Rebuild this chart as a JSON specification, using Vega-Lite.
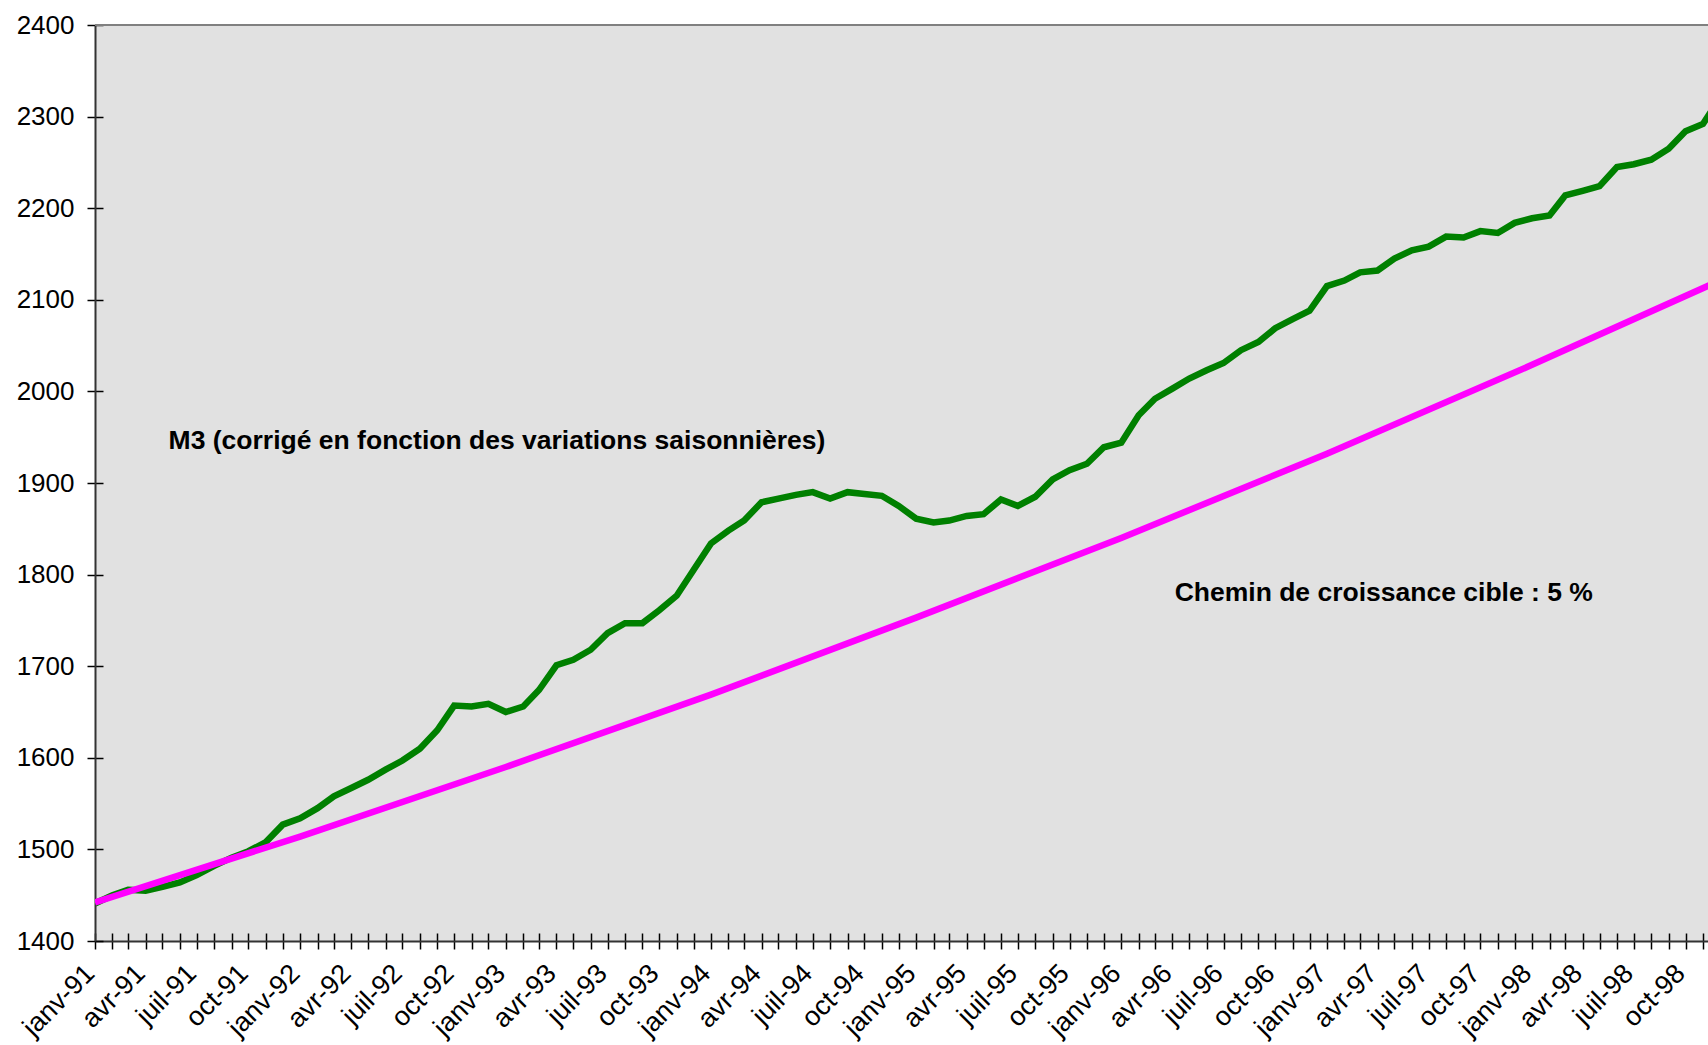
{
  "$schema": "https://vega.github.io/schema/vega-lite/v6.json",
  "width": 1613,
  "height": 916,
  "autosize": {"type": "none"},
  "padding": {"left": 95, "top": 25, "right": 0, "bottom": 104},
  "background": "white",
  "config": {
    "view": {"fill": "#E1E1E1", "stroke": null},
    "font": "Liberation Sans",
    "axis": {"grid": false, "title": null, "zindex": 1}
  },
  "datasets": {
    "m3": [
      {"date": "1991-01-01", "value": 1441}, {"date": "1991-02-01", "value": 1450}, {"date": "1991-03-01", "value": 1456}, {"date": "1991-04-01", "value": 1455},
      {"date": "1991-05-01", "value": 1459}, {"date": "1991-06-01", "value": 1464}, {"date": "1991-07-01", "value": 1472}, {"date": "1991-08-01", "value": 1482},
      {"date": "1991-09-01", "value": 1491}, {"date": "1991-10-01", "value": 1498}, {"date": "1991-11-01", "value": 1508}, {"date": "1991-12-01", "value": 1527},
      {"date": "1992-01-01", "value": 1534}, {"date": "1992-02-01", "value": 1545}, {"date": "1992-03-01", "value": 1558}, {"date": "1992-04-01", "value": 1567},
      {"date": "1992-05-01", "value": 1576}, {"date": "1992-06-01", "value": 1587}, {"date": "1992-07-01", "value": 1597}, {"date": "1992-08-01", "value": 1610},
      {"date": "1992-09-01", "value": 1630}, {"date": "1992-10-01", "value": 1657}, {"date": "1992-11-01", "value": 1656}, {"date": "1992-12-01", "value": 1659},
      {"date": "1993-01-01", "value": 1650}, {"date": "1993-02-01", "value": 1656}, {"date": "1993-03-01", "value": 1674}, {"date": "1993-04-01", "value": 1701},
      {"date": "1993-05-01", "value": 1707}, {"date": "1993-06-01", "value": 1718}, {"date": "1993-07-01", "value": 1736}, {"date": "1993-08-01", "value": 1747},
      {"date": "1993-09-01", "value": 1747}, {"date": "1993-10-01", "value": 1761}, {"date": "1993-11-01", "value": 1777}, {"date": "1993-12-01", "value": 1805},
      {"date": "1994-01-01", "value": 1834}, {"date": "1994-02-01", "value": 1848}, {"date": "1994-03-01", "value": 1859}, {"date": "1994-04-01", "value": 1879},
      {"date": "1994-05-01", "value": 1883}, {"date": "1994-06-01", "value": 1887}, {"date": "1994-07-01", "value": 1890}, {"date": "1994-08-01", "value": 1883},
      {"date": "1994-09-01", "value": 1890}, {"date": "1994-10-01", "value": 1888}, {"date": "1994-11-01", "value": 1886}, {"date": "1994-12-01", "value": 1875},
      {"date": "1995-01-01", "value": 1861}, {"date": "1995-02-01", "value": 1857}, {"date": "1995-03-01", "value": 1859}, {"date": "1995-04-01", "value": 1864},
      {"date": "1995-05-01", "value": 1866}, {"date": "1995-06-01", "value": 1882}, {"date": "1995-07-01", "value": 1875}, {"date": "1995-08-01", "value": 1885},
      {"date": "1995-09-01", "value": 1904}, {"date": "1995-10-01", "value": 1914}, {"date": "1995-11-01", "value": 1921}, {"date": "1995-12-01", "value": 1939},
      {"date": "1996-01-01", "value": 1944}, {"date": "1996-02-01", "value": 1974}, {"date": "1996-03-01", "value": 1992}, {"date": "1996-04-01", "value": 2003},
      {"date": "1996-05-01", "value": 2014}, {"date": "1996-06-01", "value": 2023}, {"date": "1996-07-01", "value": 2031}, {"date": "1996-08-01", "value": 2045},
      {"date": "1996-09-01", "value": 2054}, {"date": "1996-10-01", "value": 2069}, {"date": "1996-11-01", "value": 2079}, {"date": "1996-12-01", "value": 2088},
      {"date": "1997-01-01", "value": 2115}, {"date": "1997-02-01", "value": 2121}, {"date": "1997-03-01", "value": 2130}, {"date": "1997-04-01", "value": 2132},
      {"date": "1997-05-01", "value": 2145}, {"date": "1997-06-01", "value": 2154}, {"date": "1997-07-01", "value": 2158}, {"date": "1997-08-01", "value": 2169},
      {"date": "1997-09-01", "value": 2168}, {"date": "1997-10-01", "value": 2175}, {"date": "1997-11-01", "value": 2173}, {"date": "1997-12-01", "value": 2184},
      {"date": "1998-01-01", "value": 2189}, {"date": "1998-02-01", "value": 2192}, {"date": "1998-03-01", "value": 2214}, {"date": "1998-04-01", "value": 2219},
      {"date": "1998-05-01", "value": 2224}, {"date": "1998-06-01", "value": 2245}, {"date": "1998-07-01", "value": 2248}, {"date": "1998-08-01", "value": 2253},
      {"date": "1998-09-01", "value": 2265}, {"date": "1998-10-01", "value": 2284}, {"date": "1998-11-01", "value": 2292}, {"date": "1998-12-01", "value": 2320}
    ],
    "cible": [
      {"date": "1991-01-01", "value": 1442}, {"date": "1992-01-01", "value": 1514}, {"date": "1993-01-01", "value": 1590},
      {"date": "1994-01-01", "value": 1669}, {"date": "1995-01-01", "value": 1753}, {"date": "1996-01-01", "value": 1840},
      {"date": "1997-01-01", "value": 1932}, {"date": "1998-01-01", "value": 2029}, {"date": "1998-12-01", "value": 2121}
    ],
    "notes": [
      {"date": "1991-05-12", "value": 1946, "label": "M3 (corrigé en fonction des variations saisonnières)"},
      {"date": "1996-04-05", "value": 1780, "label": "Chemin de croissance cible : 5 %"}
    ]
  },
  "resolve": {"axis": {"x": "independent", "y": "independent"}},
  "layer": [
    {
      "data": {"values": [{}]},
      "mark": {"type": "rule", "color": "#808080", "strokeWidth": 2},
      "encoding": {
        "y": {"datum": 2400, "type": "quantitative", "scale": {"domain": [1400, 2400], "nice": false, "zero": false}, "axis": null}
      }
    },
    {
      "data": {"name": "m3"},
      "mark": {"type": "line", "color": "#008000", "strokeWidth": 6.5, "clip": true},
      "encoding": {
        "x": {
          "field": "date", "type": "temporal",
          "scale": {"type": "utc", "domain": [{"year": 1991, "month": 1, "date": 1, "utc": true}, {"year": 1998, "month": 11, "date": 10, "utc": true}]},
          "axis": {"orient": "bottom", "offset": -8, "tickSize": 8, "labels": false, "domain": false, "tickColor": "#000000", "tickWidth": 1.5, "tickCount": {"interval": "month", "step": 1}}
        },
        "y": {
          "field": "value", "type": "quantitative",
          "scale": {"domain": [1400, 2400], "nice": false, "zero": false},
          "axis": {"orient": "left", "offset": -8, "tickSize": 8, "labels": false, "domain": false, "tickColor": "#000000", "tickWidth": 1.5, "values": [1400, 1500, 1600, 1700, 1800, 1900, 2000, 2100, 2200, 2300, 2400]}
        }
      }
    },
    {
      "data": {"name": "cible"},
      "mark": {"type": "line", "color": "#FF00FF", "strokeWidth": 6.5, "clip": true},
      "encoding": {
        "x": {
          "field": "date", "type": "temporal",
          "scale": {"type": "utc", "domain": [{"year": 1991, "month": 1, "date": 1, "utc": true}, {"year": 1998, "month": 11, "date": 10, "utc": true}]},
          "axis": {
            "orient": "bottom", "tickSize": 8, "tickColor": "#000000", "tickWidth": 1.5,
            "domainColor": "#333333", "domainWidth": 2,
            "tickCount": {"interval": "month", "step": 1},
            "labelExpr": "utcmonth(datum.value) % 3 == 0 ? ['janv','avr','juil','oct'][utcmonth(datum.value) / 3] + '-' + utcFormat(datum.value, '%y') : ''",
            "labelAngle": -45, "labelAlign": "right", "labelBaseline": "middle",
            "labelFontSize": 27, "labelColor": "#000000", "labelPadding": 20, "labelOffset": -5,
            "labelOverlap": false, "labelBound": false, "labelFlush": false
          }
        },
        "y": {
          "field": "value", "type": "quantitative",
          "scale": {"domain": [1400, 2400], "nice": false, "zero": false},
          "axis": {
            "orient": "left", "tickSize": 8, "tickColor": "#000000", "tickWidth": 1.5,
            "domainColor": "#333333", "domainWidth": 2, "format": "d",
            "values": [1400, 1500, 1600, 1700, 1800, 1900, 2000, 2100, 2200, 2300, 2400],
            "labelFontSize": 26, "labelColor": "#000000", "labelPadding": 13,
            "labelOverlap": false, "labelBound": false, "labelFlush": false
          }
        }
      }
    },
    {
      "data": {"name": "notes"},
      "mark": {"type": "text", "fontWeight": "bold", "fontSize": 26.5, "align": "left", "baseline": "middle", "color": "#000000"},
      "encoding": {
        "x": {"field": "date", "type": "temporal", "scale": {"type": "utc", "domain": [{"year": 1991, "month": 1, "date": 1, "utc": true}, {"year": 1998, "month": 11, "date": 10, "utc": true}]}, "axis": null},
        "y": {"field": "value", "type": "quantitative", "scale": {"domain": [1400, 2400], "nice": false, "zero": false}, "axis": null},
        "text": {"field": "label"}
      }
    }
  ]
}
